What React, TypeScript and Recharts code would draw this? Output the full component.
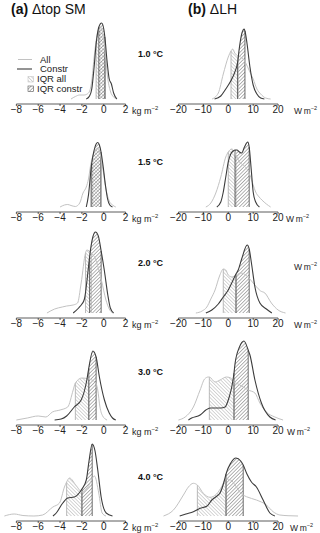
import React from 'react';
import { ComposedChart, Line, Area, XAxis, YAxis, ReferenceLine } from 'recharts';

const FONT = '"Liberation Sans", Arial, sans-serif';

const temps = ['1.0 °C', '1.5 °C', '2.0 °C', '3.0 °C', '4.0 °C'];
const smTicks = [-8, -6, -4, -2, 0, 2];
const lhTicks = [-20, -10, 0, 10, 20];
const SM_DOMAIN = [-9.5, 3.5];
const LH_DOMAIN = [-27, 30];
const Y_DOMAIN = [-0.05, 0.85];

// ---- Δtop SM (kg m-2) ----
const sm1AllX = [-3.0, -2.6, -2.2, -1.8, -1.4, -1.1, -0.9, -0.7, -0.5, -0.3, -0.1, 0.15, 0.35, 0.6, 0.9, 1.2];
const sm1AllY = [0, 0.025, 0.04, 0.04, 0.06, 0.18, 0.4, 0.58, 0.69, 0.72, 0.66, 0.45, 0.22, 0.08, 0.02, 0];
const sm1ConX = [-1.6, -1.3, -1.1, -0.9, -0.7, -0.45, -0.2, 0.0, 0.1, 0.3, 0.5, 0.7, 0.9, 1.2];
const sm1ConY = [0, 0.03, 0.1, 0.3, 0.55, 0.72, 0.76, 0.7, 0.62, 0.38, 0.2, 0.15, 0.06, 0];
const sm1Iqr = { all: [-0.7, 0.15], con: [-0.45, 0.1] };

const sm2AllX = [-4.0, -3.6, -3.3, -3.0, -2.6, -2.2, -1.9, -1.6, -1.4, -1.2, -0.9, -0.6, -0.3, -0.05, 0.2, 0.5, 0.8, 1.1];
const sm2AllY = [0, 0.02, 0.025, 0.015, 0.005, 0.04, 0.14, 0.2, 0.28, 0.42, 0.54, 0.59, 0.52, 0.36, 0.18, 0.06, 0.02, 0];
const sm2ConX = [-1.6, -1.4, -1.2, -1.1, -0.9, -0.7, -0.55, -0.4, -0.25, -0.05, 0.15, 0.35, 0.55, 0.8];
const sm2ConY = [0, 0.12, 0.34, 0.44, 0.56, 0.63, 0.645, 0.62, 0.55, 0.4, 0.22, 0.08, 0.02, 0];
const sm2Iqr = { all: [-1.2, -0.3], con: [-1.1, -0.25] };

const sm3AllX = [-5.2, -4.5, -3.8, -3.4, -2.8, -2.4, -2.07, -1.67, -1.55, -1.15, -0.8, -0.5, -0.2, 0.2, 0.5, 0.8];
const sm3AllY = [0, 0.04, 0.06, 0.07, 0.08, 0.1, 0.3, 0.6, 0.63, 0.6, 0.55, 0.45, 0.32, 0.13, 0.04, 0];
const sm3ConX = [-2.8, -2.3, -2.0, -1.77, -1.46, -1.3, -1.0, -0.76, -0.5, -0.24, 0.06, 0.37, 0.6, 0.9];
const sm3ConY = [0, 0.05, 0.09, 0.14, 0.4, 0.56, 0.76, 0.81, 0.77, 0.62, 0.42, 0.18, 0.05, 0];
const sm3Iqr = { all: [-1.67, -1.15], con: [-1.3, -0.24] };

const sm4AllX = [-8, -7, -6, -5.3, -4.7, -4.0, -3.3, -2.8, -2.6, -2.0, -1.37, -0.8, -0.55, -0.35, -0.1, 0.3];
const sm4AllY = [0, 0.02, 0.04, 0.03, 0.08, 0.1, 0.13, 0.3, 0.37, 0.42, 0.41, 0.38, 0.3, 0.13, 0.04, 0];
const sm4ConX = [-4.5, -3.9, -3.4, -2.7, -2.07, -1.55, -1.37, -1.0, -0.7, -0.4, 0.06, 0.5, 0.8, 1.1];
const sm4ConY = [0, 0.01, 0.04, 0.13, 0.2, 0.4, 0.52, 0.69, 0.63, 0.43, 0.2, 0.07, 0.02, 0];
const sm4Iqr = { all: [-2.6, -1.37], con: [-1.37, -0.7] };

const sm5AllX = [-9.1, -8.2, -7.4, -6.4, -5.6, -4.66, -4.05, -3.6, -3.4, -3.14, -2.5, -2.0, -1.4, -0.85, -0.46, -0.15, 0.2];
const sm5AllY = [0, 0.02, 0.005, 0, 0.01, 0.09, 0.13, 0.29, 0.34, 0.38, 0.3, 0.24, 0.3, 0.4, 0.23, 0.03, 0];
const sm5ConX = [-4.65, -4.35, -3.75, -3.3, -2.7, -2.0, -1.6, -1.35, -1.06, -0.8, -0.55, -0.24, 0.22, 0.8];
const sm5ConY = [0, 0.03, 0.13, 0.18, 0.19, 0.27, 0.36, 0.55, 0.72, 0.65, 0.46, 0.19, 0.03, 0];
const sm5Iqr = { all: [-3.4, -2.0], con: [-2.0, -1.06] };

// ---- ΔLH (W m-2) ----
const lh1AllX = [-6.5, -4, -2, 0, 1.1, 1.8, 2.6, 3.3, 4.0, 5, 6, 7, 8.5, 10, 11.5, 13, 15, 17];
const lh1AllY = [0, 0.06, 0.25, 0.42, 0.48, 0.5, 0.46, 0.44, 0.43, 0.42, 0.4, 0.36, 0.28, 0.2, 0.1, 0.05, 0.01, 0];
const lh1ConX = [-5.5, -3, -1, 1.0, 2.5, 3.7, 4.5, 5.5, 6.4, 6.7, 7.5, 8.7, 10, 11.5, 13, 14.5];
const lh1ConY = [0, 0.03, 0.1, 0.18, 0.26, 0.36, 0.52, 0.66, 0.7, 0.68, 0.56, 0.32, 0.14, 0.05, 0.01, 0];
const lh1Iqr = { all: [1.1, 4.0], con: [3.7, 6.7] };

const lh2AllX = [-9, -7, -5, -3, -1, 0, 1.4, 2.5, 3.1, 4.5, 6, 7.5, 8.7, 10, 11, 12.4, 13.5, 15.3, 17];
const lh2AllY = [0, 0.04, 0.14, 0.3, 0.5, 0.55, 0.58, 0.55, 0.52, 0.45, 0.42, 0.38, 0.32, 0.22, 0.15, 0.1, 0.07, 0.03, 0];
const lh2ConX = [-4.6, -3, -2, -1, 0, 1, 2, 2.7, 3.5, 4.5, 5.4, 6.5, 7.8, 8.4, 9.2, 10, 11, 12.5];
const lh2ConY = [0, 0.05, 0.15, 0.3, 0.45, 0.53, 0.56, 0.57, 0.57, 0.55, 0.54, 0.6, 0.65, 0.6, 0.38, 0.15, 0.05, 0];
const lh2Iqr = { all: [0, 3.1], con: [2.7, 8.4] };

const lh3AllX = [-13, -10.5, -8.6, -7, -5.3, -3.5, -2, -1, 0, 1.5, 3.1, 5, 7, 9, 11, 13, 14.7, 17.3, 20, 23];
const lh3AllY = [0, 0.02, 0.06, 0.14, 0.23, 0.37, 0.44, 0.43, 0.38, 0.36, 0.38, 0.4, 0.38, 0.33, 0.27, 0.22, 0.2, 0.1, 0.03, 0];
const lh3ConX = [-9, -6.6, -4, -2, 0, 1.4, 3.1, 4, 5.5, 7.6, 8.4, 9.3, 10.7, 12.7, 15.3, 17.5];
const lh3ConY = [0, 0.03, 0.09, 0.16, 0.23, 0.3, 0.39, 0.43, 0.55, 0.68, 0.64, 0.5, 0.26, 0.1, 0.04, 0];
const lh3Iqr = { all: [-2, 3.1], con: [3.1, 8.4] };

const lh4AllX = [-20, -17.3, -14, -11.3, -9.5, -8, -7.6, -5.3, -3.3, -0.7, 1, 2.3, 4, 6, 8, 10.7, 12.7, 15.3, 18.7, 22];
const lh4AllY = [0, 0.03, 0.13, 0.3, 0.41, 0.43, 0.43, 0.38, 0.4, 0.43, 0.42, 0.38, 0.36, 0.33, 0.3, 0.27, 0.17, 0.08, 0.03, 0];
const lh4ConX = [-16, -14.7, -11.3, -9, -7.3, -5, -3, -1.3, 0.5, 1.4, 2.3, 2.7, 4.5, 6.3, 8, 8.7, 10.7, 13.3, 16.7, 19];
const lh4ConY = [0, 0.02, 0.05, 0.1, 0.12, 0.12, 0.12, 0.13, 0.24, 0.33, 0.47, 0.56, 0.73, 0.79, 0.7, 0.65, 0.4, 0.17, 0.03, 0];
const lh4Iqr = { all: [-7.6, 2.3], con: [2.3, 8] };

const lh5AllX = [-26, -22, -18, -16, -14, -12.4, -10, -7.3, -4.7, -2.5, -0.9, 1, 3, 5, 6, 7.3, 11.3, 15.3, 18, 20.7, 24, 28];
const lh5AllY = [0, 0.06, 0.21, 0.29, 0.327, 0.31, 0.227, 0.187, 0.22, 0.3, 0.37, 0.36, 0.3, 0.23, 0.21, 0.193, 0.16, 0.11, 0.043, 0.01, 0.003, 0];
const lh5ConX = [-19.5, -17, -14, -11.3, -8.5, -6.6, -4.5, -3.3, -1.3, -0.9, 1, 3.1, 5, 6, 7.5, 9.3, 11.3, 14, 16.7, 18.7];
const lh5ConY = [0, 0.02, 0.043, 0.077, 0.1, 0.16, 0.2, 0.23, 0.38, 0.42, 0.53, 0.58, 0.55, 0.51, 0.42, 0.34, 0.29, 0.16, 0.03, 0];
const lh5Iqr = { all: [-12.4, -0.9], con: [-0.9, 6] };

const smPanels = [
  { allX: sm1AllX, allY: sm1AllY, conX: sm1ConX, conY: sm1ConY, iqr: sm1Iqr },
  { allX: sm2AllX, allY: sm2AllY, conX: sm2ConX, conY: sm2ConY, iqr: sm2Iqr },
  { allX: sm3AllX, allY: sm3AllY, conX: sm3ConX, conY: sm3ConY, iqr: sm3Iqr },
  { allX: sm4AllX, allY: sm4AllY, conX: sm4ConX, conY: sm4ConY, iqr: sm4Iqr },
  { allX: sm5AllX, allY: sm5AllY, conX: sm5ConX, conY: sm5ConY, iqr: sm5Iqr },
];
const lhPanels = [
  { allX: lh1AllX, allY: lh1AllY, conX: lh1ConX, conY: lh1ConY, iqr: lh1Iqr },
  { allX: lh2AllX, allY: lh2AllY, conX: lh2ConX, conY: lh2ConY, iqr: lh2Iqr },
  { allX: lh3AllX, allY: lh3AllY, conX: lh3ConX, conY: lh3ConY, iqr: lh3Iqr },
  { allX: lh4AllX, allY: lh4AllY, conX: lh4ConX, conY: lh4ConY, iqr: lh4Iqr },
  { allX: lh5AllX, allY: lh5AllY, conX: lh5ConX, conY: lh5ConY, iqr: lh5Iqr },
];

// layout
const AXIS_Y = [104, 212, 318, 425, 521];
const PLOT_H = 90;
const XAXIS_H = 14;
const CHART_W = 142;
const SM_LEFT = 0;
const LH_LEFT = 161;
const TEMP_Y = [56.6, 165, 266, 375, 480];
const LH_UNIT_X = [294, 286, 294, 287, 290];

const GRAY = '#c2c2c2';
const DARK = '#3c3c3c';
const GRAY_EDGE = '#aaaaaa';
const DARK_EDGE = '#4a4a4a';

const fmt = (v: number) => String(v).replace('-', '\u2212');

function toPts(xs: number[], ys: number[]) {
  return xs.map((x, i) => ({ x, y: ys[i] }));
}
function within(pts: { x: number; y: number }[], r: number[]) {
  return pts.filter((p) => p.x >= r[0] - 1e-9 && p.x <= r[1] + 1e-9);
}
function yAt(pts: { x: number; y: number }[], x: number) {
  const p = pts.find((q) => Math.abs(q.x - x) < 1e-9);
  return p ? p.y : 0;
}

function Panel(props: any) {
  const { left, top, domain, ticks, panel } = props;
  const all = toPts(panel.allX, panel.allY);
  const con = toPts(panel.conX, panel.conY);
  const allIqr = within(all, panel.iqr.all);
  const conIqr = within(con, panel.iqr.con);
  const edges = [
    { x: panel.iqr.all[0], y: yAt(all, panel.iqr.all[0]), c: GRAY_EDGE },
    { x: panel.iqr.all[1], y: yAt(all, panel.iqr.all[1]), c: GRAY_EDGE },
    { x: panel.iqr.con[0], y: yAt(con, panel.iqr.con[0]), c: DARK_EDGE },
    { x: panel.iqr.con[1], y: yAt(con, panel.iqr.con[1]), c: DARK_EDGE },
  ];
  return (
    <div style={{ position: 'absolute', left, top }}>
      <ComposedChart width={CHART_W} height={PLOT_H + XAXIS_H} margin={{ top: 0, right: 0, bottom: 0, left: 0 }}>
        <XAxis
          type="number"
          dataKey="x"
          domain={domain}
          ticks={ticks}
          interval={0}
          allowDataOverflow
          axisLine={false}
          tickLine={{ stroke: '#333', strokeWidth: 0.8 }}
          tickSize={2}
          tickMargin={0}
          height={XAXIS_H}
          tick={{ fontSize: 10, fill: '#222', fontFamily: FONT }}
          tickFormatter={fmt}
        />
        <YAxis type="number" dataKey="y" hide domain={Y_DOMAIN} allowDataOverflow />
        <Area data={allIqr} dataKey="y" type="monotone" stroke="none" fill="url(#hatchAll)" fillOpacity={1} baseValue={0} isAnimationActive={false} dot={false} activeDot={false} />
        <Area data={conIqr} dataKey="y" type="monotone" stroke="none" fill="url(#hatchCon)" fillOpacity={1} baseValue={0} isAnimationActive={false} dot={false} activeDot={false} />
        {edges.map((e, i) => (
          <ReferenceLine key={i} segment={[{ x: e.x, y: 0 }, { x: e.x, y: e.y }]} stroke={e.c} strokeWidth={0.8} ifOverflow="visible" />
        ))}
        <Line data={all} dataKey="y" type="monotone" stroke={GRAY} strokeWidth={1} dot={false} activeDot={false} isAnimationActive={false} />
        <Line data={con} dataKey="y" type="monotone" stroke={DARK} strokeWidth={1.1} dot={false} activeDot={false} isAnimationActive={false} />
        <ReferenceLine segment={[{ x: ticks[0], y: Y_DOMAIN[0] }, { x: ticks[ticks.length - 1], y: Y_DOMAIN[0] }]} stroke="#333" strokeWidth={0.8} ifOverflow="visible" />
      </ComposedChart>
    </div>
  );
}

function Unit({ x, y, base, size }: { x: number; y: number; base: string; size: number }) {
  return (
    <text x={x} y={y} fontSize={size} fill="#222" fontFamily={FONT}>
      {base}
      <tspan fontSize={size * 0.65} dy={-4}>−2</tspan>
    </text>
  );
}

export default function App() {
  return (
    <div style={{ position: 'absolute', left: 0, top: 0, width: 320, height: 533, background: '#fff', overflow: 'hidden' }}>
      <svg width={0} height={0} style={{ position: 'absolute' }}>
        <defs>
          <pattern id="hatchAll" patternUnits="userSpaceOnUse" width={2.5} height={2.5} patternTransform="rotate(-45)">
            <line x1={0} y1={0} x2={0} y2={2.5} stroke="#999" strokeWidth={0.8} />
          </pattern>
          <pattern id="hatchCon" patternUnits="userSpaceOnUse" width={2.5} height={2.5} patternTransform="rotate(45)">
            <line x1={0} y1={0} x2={0} y2={2.5} stroke="#444" strokeWidth={0.8} />
          </pattern>
        </defs>
      </svg>
      {smPanels.map((p, i) => (
        <Panel key={'sm' + i} left={SM_LEFT} top={AXIS_Y[i] - PLOT_H} domain={SM_DOMAIN} ticks={smTicks} panel={p} />
      ))}
      {lhPanels.map((p, i) => (
        <Panel key={'lh' + i} left={LH_LEFT} top={AXIS_Y[i] - PLOT_H} domain={LH_DOMAIN} ticks={lhTicks} panel={p} />
      ))}
      <svg width={320} height={533} style={{ position: 'absolute', left: 0, top: 0, pointerEvents: 'none' }}>
        <text x={11} y={13.5} fontSize={14} fill="#111" fontFamily={FONT}>
          <tspan fontWeight="bold">(a)</tspan> Δtop SM
        </text>
        <text x={188} y={13.5} fontSize={14} fill="#111" fontFamily={FONT}>
          <tspan fontWeight="bold">(b)</tspan> ΔLH
        </text>
        {temps.map((t, i) => (
          <text key={t} x={138} y={TEMP_Y[i]} fontSize={9} fontWeight="bold" fill="#111" fontFamily={FONT}>{t}</text>
        ))}
        {AXIS_Y.map((a, i) => (
          <Unit key={'u' + i} x={132} y={a + 10} base="kg m" size={9} />
        ))}
        {AXIS_Y.map((a, i) => (
          <Unit key={'w' + i} x={LH_UNIT_X[i]} y={a + 10} base={'W\u2009m'} size={8.5} />
        ))}
        <Unit x={294} y={270} base={'W\u2009m'} size={8.5} />
        {/* legend */}
        <line x1={18} y1={59.5} x2={32} y2={59.5} stroke={GRAY} strokeWidth={1} />
        <text x={40} y={62.5} fontSize={9.5} fill="#222" fontFamily={FONT}>All</text>
        <line x1={17} y1={69} x2={32} y2={69} stroke={DARK} strokeWidth={1.1} />
        <text x={40} y={72} fontSize={9.5} fill="#222" fontFamily={FONT}>Constr</text>
        <rect x={28} y={76.5} width={5.5} height={5.5} fill="url(#hatchAll)" stroke="#bbb" strokeWidth={0.5} />
        <text x={37} y={82} fontSize={9.5} fill="#222" fontFamily={FONT}>IQR all</text>
        <rect x={28} y={86} width={5.5} height={5.5} fill="url(#hatchCon)" stroke="#555" strokeWidth={0.6} />
        <text x={37} y={91.5} fontSize={9.5} fill="#222" fontFamily={FONT}>IQR constr</text>
      </svg>
    </div>
  );
}
